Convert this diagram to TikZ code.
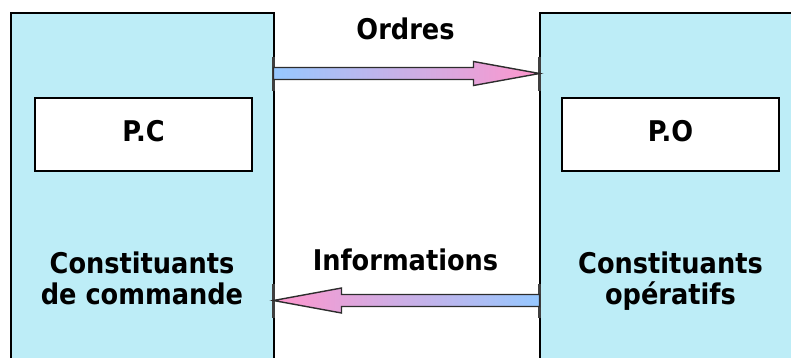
\documentclass[tikz,border=0pt]{standalone}
\usepackage{fontspec}
\usetikzlibrary{calc}
\newfontfamily\labfont{DejaVuSansCondensed-Bold.ttf}
\definecolor{unitfill}{RGB}{189,237,247}
\definecolor{flowblue}{RGB}{150,200,255}
\definecolor{flowpink}{RGB}{255,150,205}
\definecolor{flowedge}{RGB}{45,45,45}
\tikzset{
  unitbox/.style={draw=black, line width=2pt, fill=unitfill, inner sep=0pt, outer sep=0pt},
  partbox/.style={draw=black, line width=1.3pt, fill=white, minimum width=217pt, minimum height=73pt, inner sep=0pt},
  lab/.style={font=\labfont\fontsize{28.5}{31}\selectfont, text=black, inner sep=0pt, align=center},
  flow/.style={draw=flowedge, line width=1.4pt, line join=miter},
  tick/.style={draw=black!75, line width=2.6pt}
}
\begin{document}
\begin{tikzpicture}[x=1pt,y=-1pt]
\useasboundingbox (0,0) rectangle (791,357);
\clip (0,0) rectangle (791,357);

% control part and operative part
\node[unitbox, minimum width=263pt, minimum height=400pt, anchor=north west] (cmd) at (10.5,13) {};
\node[unitbox, minimum width=263pt, minimum height=400pt, anchor=north west] (ope) at (539.5,13) {};

\node[partbox] (pc) at (143.5,134.5) {};
\node[partbox] (po) at (670.5,134.5) {};
\node[lab, anchor=base] (pct) at (143.5,141) {P.C};
\node[lab, anchor=base] (pot) at (670.5,141) {P.O};

% two-line captions: base anchor sits on the last line
\node[lab, anchor=base] (cmdt) at (142,304) {Constituants\\de commande};
\node[lab, anchor=base] (opet) at (670.5,304) {Constituants\\opératifs};

% flow labels
\node[lab, anchor=base] (ordt) at (405.5,39) {Ordres};
\node[lab, anchor=base] (inft) at (405.5,270) {Informations};

% anchor points of the two flows
\coordinate (ordTail) at (cmd.east |- 0,73.5);
\coordinate (ordTip) at (ope.west |- 0,73.5);
\coordinate (infTail) at (ope.west |- 0,300.5);
\coordinate (infTip) at (cmd.east |- 0,300.5);

% short marks on the borders where the flows meet the boxes
\draw[tick] ($(ordTail)+(0,-17)$) -- ($(ordTail)+(0,17)$);
\draw[tick] ($(ordTip)+(0,-17)$) -- ($(ordTip)+(0,17)$);
\draw[tick] ($(infTail)+(0,-17)$) -- ($(infTail)+(0,17)$);
\draw[tick] ($(infTip)+(0,-17)$) -- ($(infTip)+(0,17)$);

% orders: command -> operative
\shadedraw[flow, left color=flowblue, right color=flowpink]
  ($(ordTail)+(0,-6)$) -- ($(ordTip)+(-66,-6)$) -- ($(ordTip)+(-66,-12)$) -- (ordTip)
  -- ($(ordTip)+(-66,12)$) -- ($(ordTip)+(-66,6)$) -- ($(ordTail)+(0,6)$) -- cycle;

% information: operative -> command
\shadedraw[flow, left color=flowpink, right color=flowblue]
  ($(infTail)+(0,-6)$) -- ($(infTip)+(68,-6)$) -- ($(infTip)+(68,-12.5)$) -- (infTip)
  -- ($(infTip)+(68,12.5)$) -- ($(infTip)+(68,6)$) -- ($(infTail)+(0,6)$) -- cycle;
\end{tikzpicture}
\end{document}
